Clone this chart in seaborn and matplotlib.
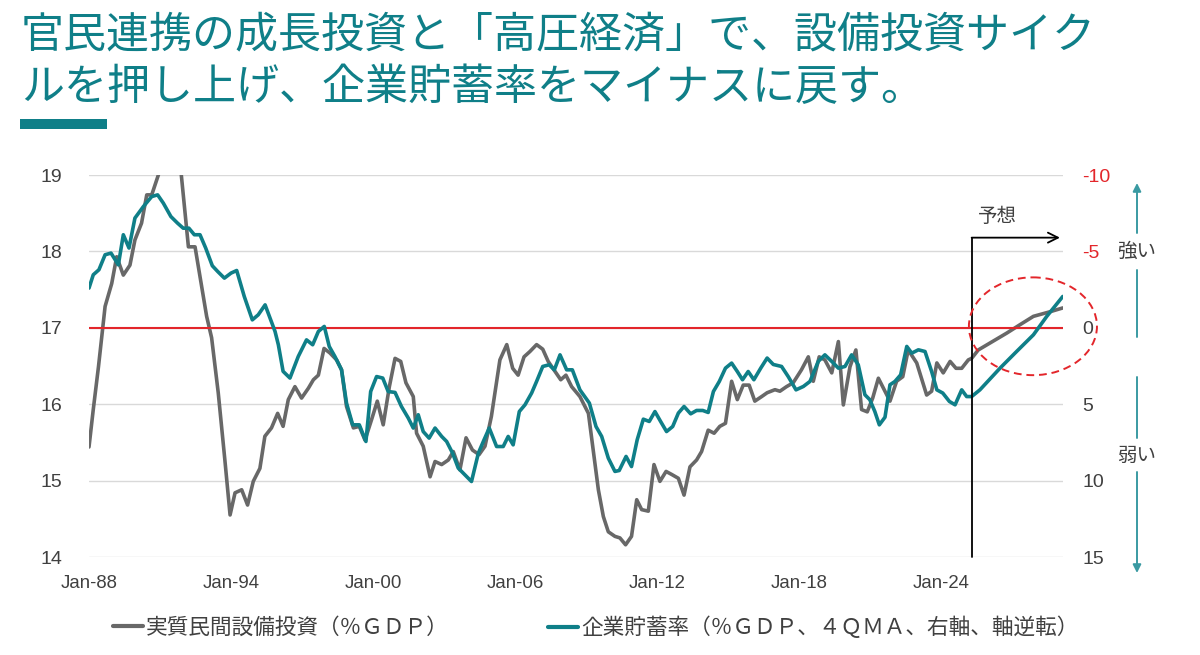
import matplotlib
matplotlib.use('Agg')
import numpy as np
import pandas as pd
import matplotlib.pyplot as plt
import seaborn as sns
from matplotlib.patches import Ellipse, Rectangle
from matplotlib.lines import Line2D

# ---------------- data ----------------
invest_years = [1988.0, 1988.18, 1988.4, 1988.68, 1988.96, 1989.17, 1989.45, 1989.73, 1989.94, 1990.22,
                1990.44, 1990.65, 1990.93, 1991.2, 1991.45, 1991.7, 1991.9, 1992.2, 1992.48, 1992.76,
                1992.97, 1993.18, 1993.46, 1993.74, 1993.96, 1994.17, 1994.45, 1994.7, 1994.94, 1995.22,
                1995.43, 1995.71, 1995.97, 1996.2, 1996.42, 1996.7, 1996.98, 1997.27, 1997.48, 1997.69,
                1997.93, 1998.18, 1998.46, 1998.67, 1998.88, 1999.17, 1999.42, 1999.66, 1999.94, 2000.18,
                2000.43, 2000.69, 2000.93, 2001.17, 2001.39, 2001.7, 2001.84, 2002.12, 2002.41, 2002.62,
                2002.9, 2003.18, 2003.39, 2003.67, 2003.93, 2004.2, 2004.48, 2004.73, 2005.0, 2005.36,
                2005.65, 2005.9, 2006.13, 2006.38, 2006.63, 2006.91, 2007.17, 2007.4, 2007.69, 2007.93,
                2008.15, 2008.39, 2008.74, 2009.1, 2009.3, 2009.52, 2009.73, 2009.94, 2010.22, 2010.43,
                2010.67, 2010.92, 2011.14, 2011.35, 2011.63, 2011.87, 2012.12, 2012.38, 2012.62, 2012.9,
                2013.14, 2013.39, 2013.67, 2013.88, 2014.16, 2014.41, 2014.65, 2014.89, 2015.15, 2015.39,
                2015.64, 2015.89, 2016.13, 2016.42, 2016.65, 2016.98, 2017.19, 2017.47, 2017.75, 2018.1,
                2018.39, 2018.6, 2018.85, 2019.09, 2019.38, 2019.66, 2019.87, 2020.15, 2020.4, 2020.64,
                2020.88, 2021.11, 2021.35, 2021.63, 2021.84, 2022.12, 2022.38, 2022.61, 2022.97, 2023.39,
                2023.6, 2023.82, 2024.09, 2024.38, 2024.63, 2024.87, 2025.15, 2025.29, 2025.57, 2026.06,
                2026.77, 2027.33, 2027.9, 2028.6, 2029.14]
invest_values = [15.44, 15.93, 16.49, 17.28, 17.58, 17.93, 17.69, 17.82, 18.15, 18.37,
                 18.74, 18.74, 19.0, 19.3, 19.55, 19.5, 19.0, 18.06, 18.06, 17.54,
                 17.15, 16.87, 16.15, 15.27, 14.55, 14.84, 14.88, 14.68, 14.99, 15.16,
                 15.58, 15.69, 15.88, 15.71, 16.06, 16.23, 16.08, 16.21, 16.32, 16.38,
                 16.73, 16.67, 16.58, 16.45, 15.97, 15.69, 15.71, 15.53, 15.8, 16.04,
                 15.73, 16.23, 16.6, 16.56, 16.28, 16.1, 15.62, 15.45, 15.05, 15.25,
                 15.21, 15.27, 15.38, 15.14, 15.56, 15.4, 15.34, 15.45, 15.84, 16.58,
                 16.78, 16.47, 16.38, 16.62, 16.69, 16.78, 16.72, 16.56, 16.43, 16.32,
                 16.38, 16.23, 16.1, 15.88, 15.4, 14.88, 14.53, 14.33, 14.27, 14.25,
                 14.16, 14.27, 14.75, 14.62, 14.6, 15.21, 14.99, 15.12, 15.08, 15.03,
                 14.81, 15.18, 15.27, 15.38, 15.66, 15.62, 15.71, 15.75, 16.3, 16.06,
                 16.25, 16.25, 16.04, 16.1, 16.15, 16.19, 16.17, 16.23, 16.28, 16.45,
                 16.62, 16.3, 16.62, 16.58, 16.41, 16.82, 15.99, 16.49, 16.71, 15.93,
                 15.9, 16.08, 16.34, 16.17, 16.04, 16.3, 16.36, 16.71, 16.54, 16.12,
                 16.17, 16.54, 16.41, 16.56, 16.47, 16.47, 16.58, 16.6, 16.71, 16.8,
                 16.93, 17.04, 17.15, 17.21, 17.26]

saving_years = [1988.0, 1988.18, 1988.42, 1988.68, 1988.93, 1989.24, 1989.45, 1989.69, 1989.94, 1990.3,
                1990.65, 1990.9, 1991.14, 1991.46, 1991.74, 1991.98, 1992.22, 1992.45, 1992.69, 1992.93,
                1993.21, 1993.44, 1993.72, 1994.0, 1994.24, 1994.56, 1994.9, 1995.15, 1995.44, 1995.65,
                1995.86, 1996.0, 1996.2, 1996.49, 1996.84, 1997.19, 1997.45, 1997.69, 1997.94, 1998.15,
                1998.39, 1998.67, 1998.88, 1999.14, 1999.42, 1999.7, 1999.9, 2000.15, 2000.41, 2000.64,
                2000.93, 2001.2, 2001.49, 2001.7, 2001.91, 2002.12, 2002.37, 2002.62, 2002.9, 2003.11,
                2003.36, 2003.6, 2003.88, 2004.16, 2004.45, 2004.69, 2004.91, 2005.22, 2005.5, 2005.71,
                2005.92, 2006.18, 2006.42, 2006.7, 2006.91, 2007.17, 2007.44, 2007.66, 2007.9, 2008.18,
                2008.42, 2008.74, 2009.14, 2009.42, 2009.66, 2009.94, 2010.22, 2010.4, 2010.69, 2010.92,
                2011.16, 2011.42, 2011.67, 2011.91, 2012.15, 2012.4, 2012.66, 2012.9, 2013.14, 2013.42,
                2013.67, 2013.93, 2014.16, 2014.38, 2014.63, 2014.89, 2015.15, 2015.39, 2015.61, 2015.85,
                2016.09, 2016.38, 2016.65, 2016.91, 2017.26, 2017.54, 2017.87, 2018.18, 2018.46, 2018.81,
                2019.09, 2019.38, 2019.66, 2019.94, 2020.22, 2020.5, 2020.78, 2020.99, 2021.2, 2021.39,
                2021.63, 2021.84, 2022.05, 2022.29, 2022.55, 2022.76, 2023.04, 2023.32, 2023.6, 2023.82,
                2024.07, 2024.35, 2024.59, 2024.87, 2025.08, 2025.29, 2025.64, 2026.49, 2027.19, 2027.9,
                2028.46, 2029.14]
saving_values = [-2.6, -3.47, -3.8, -4.78, -4.89, -4.12, -6.09, -5.22, -7.18, -7.94,
                 -8.59, -8.7, -8.16, -7.28, -6.85, -6.52, -6.52, -6.09, -6.09, -5.22,
                 -4.06, -3.68, -3.25, -3.58, -3.75, -2.05, -0.52, -0.85, -1.5, -0.63,
                 0.24, 1.11, 2.85, 3.29, 1.88, 0.79, 1.11, 0.24, -0.09, 1.22,
                 1.88, 2.75, 4.93, 6.35, 6.35, 7.44, 4.17, 3.19, 3.29, 4.17,
                 4.23, 5.15, 5.91, 6.56, 5.69, 6.79, 7.22, 6.56, 7.11, 7.44,
                 8.2, 9.18, 9.62, 10.06, 8.2, 7.33, 6.56, 7.77, 7.77, 7.11,
                 7.66, 5.48, 5.04, 4.27, 3.51, 2.53, 2.42, 2.75, 1.77, 2.75,
                 2.75, 4.06, 4.93, 6.46, 7.11, 8.53, 9.4, 9.34, 8.42, 9.08,
                 7.33, 5.98, 6.13, 5.48, 6.13, 6.79, 6.46, 5.58, 5.15, 5.63,
                 5.41, 5.41, 5.54, 4.17, 3.51, 2.64, 2.31, 2.86, 3.4, 2.86,
                 3.4, 2.64, 1.98, 2.4, 2.53, 3.19, 4.06, 3.84, 3.51, 2.2,
                 1.77, 2.2, 2.64, 2.53, 1.77, 2.42, 4.38, 4.71, 5.48, 6.35,
                 5.85, 3.73, 3.51, 3.08, 1.22, 1.66, 1.44, 1.55, 2.86, 4.06,
                 4.27, 4.82, 5.04, 4.06, 4.5, 4.5, 4.06, 2.64, 1.55, 0.46,
                 -0.74, -2.05]

x_tick_years = [1988, 1994, 2000, 2006, 2012, 2018, 2024]
x_tick_labels = ['Jan-88', 'Jan-94', 'Jan-00', 'Jan-06', 'Jan-12', 'Jan-18', 'Jan-24']
left_ticks = [14, 15, 16, 17, 18, 19]
right_ticks = [-10, -5, 0, 5, 10, 15]
right_tick_labels = ['-10', '-5', '0', '5', '10', '15']

title_line1 = '官民連携の成長投資と「高圧経済」で、設備投資サイク'
title_line2 = 'ルを押し上げ、企業貯蓄率をマイナスに戻す。'
legend_invest = '実質民間設備投資（％ＧＤＰ）'
legend_saving = '企業貯蓄率（％ＧＤＰ、４ＱＭＡ、右軸、軸逆転）'
forecast_label = '予想'
strong_label = '強い'
weak_label = '弱い'

forecast_start = 2025.29
forecast_arrow_end = 2029.02
forecast_arrow_level = -5.9
forecast_text_pos = (2026.4, -7.3)
circle_center = (2027.88, -0.1)
circle_size = (5.41, 6.4)

# ---------------- style ----------------
TEAL = '#0f7f88'
GREY = '#686868'
RED = '#e3262b'
TXT = '#404040'
JP = ['Noto Sans CJK JP', 'DejaVu Sans']

sns.set_theme(style='white')
plt.rcParams['font.family'] = ['Liberation Sans', 'Noto Sans CJK JP', 'DejaVu Sans']

W, H = 1200, 655
fig = plt.figure(figsize=(W / 100, H / 100), dpi=100)
fig.patch.set_facecolor('white')

ax = fig.add_axes([89 / W, 1 - 557 / H, (1063 - 89) / W, (557 - 175) / H])
ax2 = ax.twinx()

df_inv = pd.DataFrame({'year': invest_years, 'value': invest_values})
df_sav = pd.DataFrame({'year': saving_years, 'value': saving_values})

sns.lineplot(data=df_inv, x='year', y='value', ax=ax, color=GREY, linewidth=2.6,
             estimator=None, sort=False)
sns.lineplot(data=df_sav, x='year', y='value', ax=ax2, color=TEAL, linewidth=2.6,
             estimator=None, sort=False)

ax.set_xlim(1988, 2029.15)
ax.set_ylim(14, 19)
ax2.set_ylim(15, -10)
ax.set_xlabel('')
ax.set_ylabel('')
ax2.set_xlabel('')
ax2.set_ylabel('')

ax.set_xticks(x_tick_years)
ax.set_xticklabels(x_tick_labels)
ax.set_yticks(left_ticks)
ax.set_yticklabels([str(t) for t in left_ticks])
ax2.set_yticks(right_ticks)
ax2.set_yticklabels(right_tick_labels)

ax.tick_params(axis='x', length=0, pad=13, labelsize=13.4, labelcolor=TXT)
ax.tick_params(axis='y', length=0, pad=19, labelsize=14, labelcolor=TXT)
ax2.tick_params(axis='y', length=0, pad=14, labelsize=14, labelcolor=TXT)
for lbl, val in zip(ax2.get_yticklabels(), right_ticks):
    if val < 0:
        lbl.set_color(RED)

ax.grid(axis='y', color='#d9d9d9', linewidth=1)
ax.grid(axis='x', visible=False)
ax2.grid(False)
for a in (ax, ax2):
    for s in a.spines.values():
        s.set_visible(False)

# zero line (right axis 0 == left axis 17)
ax2.axhline(0, color=RED, linewidth=1.5, zorder=1)

# forecast marker
ax2.plot([forecast_start, forecast_start], [15, forecast_arrow_level], color='black',
         linewidth=1.3, clip_on=False, zorder=5)
ax2.annotate('', xy=(forecast_arrow_end, forecast_arrow_level),
             xytext=(forecast_start, forecast_arrow_level),
             arrowprops=dict(arrowstyle='->', color='black', lw=1.3, mutation_scale=18,
                             shrinkA=0, shrinkB=0),
             annotation_clip=False)
ax2.text(forecast_text_pos[0], forecast_text_pos[1], forecast_label, ha='center', va='center',
         fontsize=14, color=TXT, family=JP)

# dashed circle
ax2.add_patch(Ellipse(circle_center, circle_size[0], circle_size[1], fill=False,
                      edgecolor=RED, linestyle=(0, (4, 2.5)), linewidth=1.4, clip_on=False,
                      zorder=6))

# right side strength arrow
ARW = '#3a9aa2'
xa = 1137 / W
def fy(py):
    return 1 - py / H
for y0, y1 in [(270, 337), (377, 438)]:
    fig.add_artist(Line2D([xa, xa], [fy(y0), fy(y1)], transform=fig.transFigure,
                          color=ARW, linewidth=1.4))
fig.add_artist(matplotlib.patches.FancyArrowPatch((xa, fy(233)), (xa, fy(183)),
               transform=fig.transFigure, arrowstyle='-|>', mutation_scale=12,
               color=ARW, linewidth=1.4, shrinkA=0, shrinkB=0))
fig.add_artist(matplotlib.patches.FancyArrowPatch((xa, fy(472)), (xa, fy(573)),
               transform=fig.transFigure, arrowstyle='-|>', mutation_scale=12,
               color=ARW, linewidth=1.4, shrinkA=0, shrinkB=0))
fig.text(xa, fy(251), strong_label, ha='center', va='center', fontsize=14, color=TXT, family=JP)
fig.text(xa, fy(455), weak_label, ha='center', va='center', fontsize=14, color=TXT, family=JP)

# title
fig.text(21 / W, fy(47), title_line1, ha='left', va='baseline', fontsize=31, color=TEAL, family=JP)
fig.text(21 / W, fy(100), title_line2, ha='left', va='baseline', fontsize=31, color=TEAL, family=JP)
fig.add_artist(Rectangle((20 / W, fy(129)), 87 / W, 10 / H, transform=fig.transFigure,
                         facecolor=TEAL, edgecolor='none'))

# legend
prop = {'family': JP, 'size': 15.6}
h1 = Line2D([], [], color=GREY, linewidth=3)
h2 = Line2D([], [], color=TEAL, linewidth=3)
leg1 = fig.legend([h1], [legend_invest], loc='center left', bbox_to_anchor=(113 / W, 27 / H),
                  frameon=False, borderpad=0, borderaxespad=0, handlelength=1.4,
                  handletextpad=0.12, prop=prop, labelcolor=TXT)
leg2 = fig.legend([h2], [legend_saving], loc='center left', bbox_to_anchor=(548 / W, 27 / H),
                  frameon=False, borderpad=0, borderaxespad=0, handlelength=1.4,
                  handletextpad=0.12, prop=prop, labelcolor=TXT)

fig.savefig('out.png', dpi=100, facecolor='white')
